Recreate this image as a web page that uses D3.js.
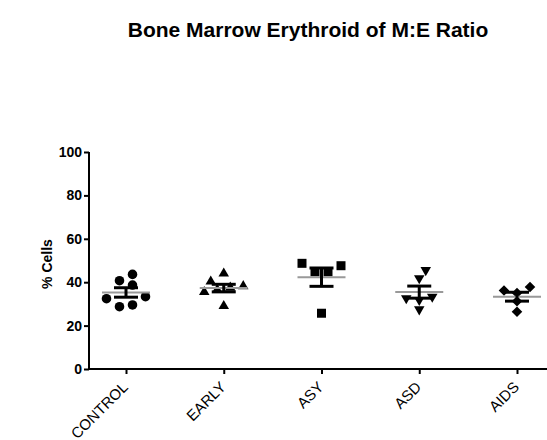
<!DOCTYPE html>
<html>
<head>
<meta charset="utf-8">
<script src="https://cdn.jsdelivr.net/npm/d3@7"></script>
<style>
  body { margin: 0; background: #fff; }
  svg { display: block; font-family: "Liberation Sans", Arial, sans-serif; }
</style>
</head>
<body>
<svg width="547" height="440"></svg>
<script>
// groups and the % cells
var groups = ["CONTROL", "EARLY", "ASY", "ASD", "AIDS"];
var control = [40.7, 38.7, 43.6, 32.4, 33.3, 28.7, 29.5];
var early = [35.5, 36.5, 37.5, 38.2, 40.3, 44.0, 29.0];
var asy = [48.7, 44.8, 44.8, 47.6, 25.7];
var asd = [45.6, 41.8, 32.6, 31.8, 33.3, 27.5];
var aids = [36.2, 35.0, 37.8, 31.2, 26.4];
var yTicks = [0, 20, 40, 60, 80, 100];

var series = [control, early, asy, asd, aids];
var shapes = ["circle", "up", "square", "down", "diamond"];

var svg = d3.select("svg");

var x = d3.scalePoint().domain(groups).range([126, 517]);
var y = d3.scaleLinear().domain([0, 100]).range([369, 152]);

// title
svg.append("text")
  .attr("x", 308)
  .attr("y", 37)
  .attr("text-anchor", "middle")
  .style("font-size", "21px")
  .style("font-weight", "bold")
  .text("Bone Marrow Erythroid of M:E Ratio");

// y axis
var yAxis = svg.append("g")
  .attr("transform", "translate(89,0)")
  .call(d3.axisLeft(y).tickValues(yTicks).tickSize(5).tickPadding(2));
yAxis.select(".domain").attr("d", "M0," + y(100) + "V" + (y(0) + 1));
yAxis.selectAll("text")
  .style("font-size", "14px")
  .style("font-weight", "bold")
  .style("font-family", "'Liberation Sans', Arial, sans-serif")
  .attr("fill", "#000");

// x axis
var xAxis = svg.append("g")
  .attr("transform", "translate(0,369)")
  .call(d3.axisBottom(x).tickSize(5).tickFormat(""));
xAxis.select(".domain").attr("d", "M88,0H547");

svg.selectAll(".domain, .tick line")
  .attr("stroke", "#000")
  .attr("stroke-width", 2);

svg.append("g").selectAll("text")
  .data(groups)
  .enter().append("text")
  .attr("transform", function(d) {
    return "translate(" + (x(d) + 3) + ",388) rotate(-45)";
  })
  .attr("text-anchor", "end")
  .style("font-size", "15px")
  .text(function(d) { return d; });

// y title
svg.append("text")
  .attr("transform", "translate(52,264) rotate(-90)")
  .attr("text-anchor", "middle")
  .style("font-size", "14px")
  .style("font-weight", "bold")
  .text("% Cells");

// prism-like scatter: points at about the same height form a row,
// spread evenly round the centre, and pushed wider if they hit a row below
function swarm(values, cx) {
  var order = values.map(function(v, i) { return i; })
    .sort(function(a, b) { return values[a] - values[b]; });
  var rows = [];
  order.forEach(function(i) {
    var last = rows[rows.length - 1];
    var rowY = last ? d3.mean(last, function(k) { return y(values[k]); }) : 0;
    if (last && Math.abs(rowY - y(values[i])) < 7) last.push(i);
    else rows.push([i]);
  });

  var placed = [];
  var out = new Array(values.length);
  function clear(px, py) {
    return !placed.some(function(p) {
      return Math.hypot(p[0] - px, p[1] - py) < 10.4;
    });
  }
  rows.forEach(function(row) {
    row.sort(function(a, b) { return a - b; });  // left to right in data order
    var n = row.length;
    var tries = n == 1 ? [0, 6.5, -6.5, 13, -13, 19.5, -19.5] : [1, 2, 3];
    function spread(t) {
      return row.map(function(idx, j) {
        return n == 1 ? cx + tries[t] : cx + (j - (n - 1) / 2) * 13 * tries[t];
      });
    }
    var xs = null;
    for (var t = 0; t < tries.length && !xs; t++) {
      var cand = spread(t);
      if (row.every(function(idx, j) { return clear(cand[j], y(values[idx])); })) xs = cand;
    }
    if (!xs) xs = spread(0);
    row.forEach(function(idx, j) {
      out[idx] = [xs[j], y(values[idx])];
      placed.push(out[idx]);
    });
  });
  return out;
}

function symbolFor(shape) {
  if (shape == "circle") return d3.symbol(d3.symbolCircle, 72)();
  if (shape == "square") return d3.symbol(d3.symbolSquare, 81)();
  if (shape == "diamond") return d3.symbol(d3.symbolSquare, 56)();
  return d3.symbol(d3.symbolTriangle, 48)();
}

function rotFor(shape) {
  if (shape == "down") return " rotate(180)";
  if (shape == "diamond") return " rotate(45)";
  return "";
}

groups.forEach(function(g, gi) {
  var vals = series[gi];
  var cx = x(g);
  var mean = d3.mean(vals);
  var sem = d3.deviation(vals) / Math.sqrt(vals.length);
  var layer = svg.append("g");

  layer.selectAll("path")
    .data(swarm(vals, cx))
    .enter().append("path")
    .attr("d", symbolFor(shapes[gi]))
    .attr("transform", function(d) {
      return "translate(" + d[0] + "," + d[1] + ")" + rotFor(shapes[gi]);
    })
    .attr("fill", "#000");

  // mean line
  layer.append("line")
    .attr("x1", cx - 24).attr("x2", cx + 24)
    .attr("y1", y(mean)).attr("y2", y(mean))
    .attr("stroke", "#999").attr("stroke-width", 2);

  // SEM bars
  layer.append("line")
    .attr("x1", cx).attr("x2", cx)
    .attr("y1", y(mean + sem)).attr("y2", y(mean - sem))
    .attr("stroke", "#000").attr("stroke-width", 3);
  [mean + sem, mean - sem].forEach(function(v) {
    layer.append("line")
      .attr("x1", cx - 12).attr("x2", cx + 12)
      .attr("y1", y(v)).attr("y2", y(v))
      .attr("stroke", "#000").attr("stroke-width", 3);
  });
});
</script>
</body>
</html>
